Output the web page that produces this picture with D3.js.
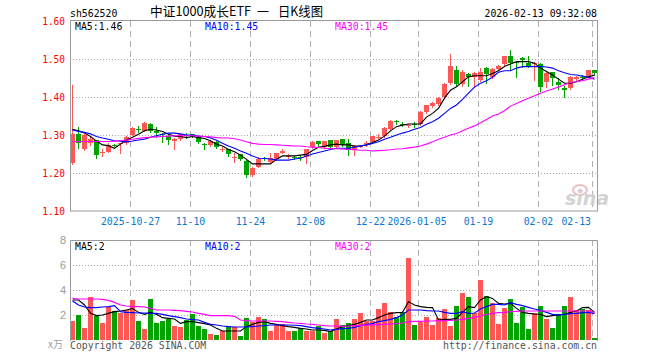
<!DOCTYPE html>
<html><head><meta charset="utf-8">
<script src="https://cdn.jsdelivr.net/npm/d3@7"></script>
<style>body{margin:0;background:#fff}svg{display:block}</style>
</head><body>
<svg id="c" width="660" height="360"></svg>
<script>
const dates = ["2025-10-13","2025-10-14","2025-10-15","2025-10-16","2025-10-17","2025-10-20","2025-10-21","2025-10-22","2025-10-23","2025-10-24",
"2025-10-27","2025-10-28","2025-10-29","2025-10-30","2025-10-31","2025-11-03","2025-11-04","2025-11-05","2025-11-06","2025-11-07",
"2025-11-10","2025-11-11","2025-11-12","2025-11-13","2025-11-14","2025-11-17","2025-11-18","2025-11-19","2025-11-20","2025-11-21",
"2025-11-24","2025-11-25","2025-11-26","2025-11-27","2025-11-28","2025-12-01","2025-12-02","2025-12-03","2025-12-04","2025-12-05",
"2025-12-08","2025-12-09","2025-12-10","2025-12-11","2025-12-12","2025-12-15","2025-12-16","2025-12-17","2025-12-18","2025-12-19",
"2025-12-22","2025-12-23","2025-12-24","2025-12-25","2025-12-26","2025-12-29","2025-12-30","2025-12-31","2026-01-05","2026-01-06",
"2026-01-07","2026-01-08","2026-01-09","2026-01-12","2026-01-13","2026-01-14","2026-01-15","2026-01-16","2026-01-19","2026-01-20",
"2026-01-21","2026-01-22","2026-01-23","2026-01-26","2026-01-27","2026-01-28","2026-01-29","2026-01-30","2026-02-02","2026-02-03",
"2026-02-04","2026-02-05","2026-02-06","2026-02-09","2026-02-10","2026-02-11","2026-02-12","2026-02-13"];

const openP = [1.227,1.302,1.263,1.278,1.287,1.254,1.256,1.274,1.276,1.278,
1.300,1.317,1.311,1.329,1.311,1.303,1.297,1.283,1.289,1.300,
1.302,1.296,1.277,1.274,1.282,1.262,1.262,1.240,1.250,1.232,
1.195,1.217,1.239,1.230,1.236,1.253,1.243,1.242,1.242,1.243,
1.268,1.284,1.268,1.287,1.269,1.289,1.278,1.261,1.270,1.277,
1.282,1.295,1.297,1.315,1.336,1.330,1.325,1.330,1.328,1.361,
1.376,1.382,1.399,1.436,1.471,1.433,1.461,1.452,1.445,1.476,
1.452,1.473,1.487,1.508,1.493,1.502,1.490,1.488,1.487,1.440,
1.465,1.440,1.423,1.423,1.447,1.452,1.453,1.471];
const closeP = [1.302,1.278,1.300,1.289,1.247,1.255,1.274,1.273,1.278,1.296,
1.319,1.314,1.332,1.311,1.306,1.302,1.287,1.290,1.302,1.299,
1.296,1.282,1.276,1.284,1.269,1.263,1.250,1.242,1.236,1.195,
1.214,1.237,1.238,1.239,1.252,1.258,1.244,1.241,1.241,1.262,
1.282,1.276,1.284,1.268,1.287,1.274,1.261,1.272,1.271,1.278,
1.297,1.296,1.319,1.338,1.335,1.329,1.326,1.329,1.361,1.378,
1.385,1.398,1.434,1.482,1.433,1.467,1.452,1.462,1.467,1.461,
1.473,1.482,1.508,1.489,1.492,1.497,1.480,1.490,1.427,1.464,
1.449,1.432,1.418,1.452,1.453,1.451,1.471,1.464];
const highP = [1.432,1.320,1.302,1.295,1.287,1.263,1.278,1.277,1.279,1.298,
1.320,1.323,1.333,1.331,1.320,1.305,1.300,1.292,1.303,1.304,
1.303,1.297,1.280,1.287,1.283,1.268,1.263,1.252,1.251,1.233,
1.216,1.242,1.243,1.252,1.253,1.262,1.251,1.246,1.246,1.263,
1.283,1.285,1.285,1.288,1.288,1.290,1.289,1.274,1.274,1.284,
1.298,1.302,1.320,1.340,1.340,1.333,1.330,1.333,1.362,1.380,
1.388,1.400,1.436,1.513,1.482,1.470,1.463,1.465,1.476,1.478,
1.476,1.485,1.509,1.525,1.496,1.506,1.508,1.492,1.489,1.466,
1.466,1.449,1.428,1.454,1.456,1.458,1.472,1.472];
const lowP = [1.224,1.265,1.261,1.275,1.240,1.245,1.254,1.270,1.253,1.276,
1.299,1.308,1.310,1.307,1.296,1.282,1.276,1.263,1.287,1.293,
1.294,1.280,1.262,1.272,1.266,1.257,1.245,1.230,1.233,1.190,
1.193,1.216,1.234,1.229,1.235,1.252,1.240,1.236,1.235,1.226,
1.266,1.272,1.266,1.266,1.267,1.270,1.247,1.247,1.268,1.272,
1.280,1.291,1.296,1.314,1.328,1.324,1.322,1.320,1.326,1.358,
1.374,1.380,1.397,1.434,1.431,1.430,1.429,1.426,1.443,1.438,
1.449,1.471,1.485,1.470,1.453,1.480,1.478,1.445,1.417,1.427,
1.432,1.420,1.401,1.421,1.445,1.448,1.452,1.458];

const ma5 = [1.315,1.311,1.305,1.296,1.284,1.274,1.272,1.265,1.276,1.287,
1.294,1.302,1.311,1.315,1.313,1.309,1.302,1.297,1.296,1.293,
1.296,1.293,1.291,1.285,1.276,1.271,1.262,1.256,1.247,1.236,
1.224,1.224,1.224,1.224,1.236,1.245,1.245,1.245,1.247,1.249,
1.259,1.268,1.270,1.274,1.276,1.274,1.274,1.271,1.271,1.274,
1.280,1.287,1.297,1.311,1.322,1.326,1.329,1.329,1.329,1.347,
1.357,1.370,1.397,1.418,1.427,1.440,1.453,1.456,1.456,1.456,
1.462,1.469,1.480,1.487,1.493,1.493,1.493,1.489,1.476,1.467,
1.458,1.447,1.436,1.436,1.440,1.447,1.453,1.458];
const ma10 = [1.313,1.309,1.307,1.303,1.296,1.292,1.289,1.285,1.284,1.282,
1.284,1.287,1.289,1.294,1.298,1.302,1.305,1.305,1.303,1.300,
1.300,1.297,1.296,1.292,1.286,1.278,1.271,1.265,1.258,1.252,
1.245,1.239,1.238,1.237,1.234,1.234,1.234,1.237,1.239,1.245,
1.250,1.254,1.258,1.262,1.265,1.265,1.265,1.268,1.271,1.274,
1.278,1.282,1.289,1.294,1.300,1.305,1.309,1.315,1.320,1.328,
1.335,1.344,1.357,1.370,1.379,1.394,1.410,1.426,1.436,1.443,
1.452,1.465,1.469,1.469,1.476,1.480,1.480,1.480,1.480,1.479,
1.476,1.469,1.464,1.459,1.458,1.455,1.452,1.447];
const ma30 = [1.283,1.283,1.283,1.283,1.283,1.283,1.283,1.284,1.285,1.287,
1.289,1.291,1.293,1.294,1.295,1.296,1.297,1.298,1.298,1.298,
1.298,1.297,1.296,1.295,1.293,1.292,1.292,1.290,1.287,1.282,
1.278,1.276,1.275,1.275,1.274,1.273,1.272,1.271,1.271,1.269,
1.268,1.267,1.265,1.264,1.264,1.263,1.262,1.261,1.260,1.260,
1.258,1.259,1.260,1.261,1.263,1.264,1.266,1.268,1.271,1.276,
1.282,1.289,1.294,1.300,1.304,1.311,1.318,1.324,1.332,1.341,
1.350,1.355,1.364,1.376,1.383,1.390,1.397,1.403,1.410,1.416,
1.421,1.426,1.432,1.438,1.440,1.443,1.447,1.451];

const volume = [1.52,2.0,0.96,3.44,1.95,1.36,2.67,2.32,2.13,2.4,
3.2,1.52,0.88,3.28,1.39,1.55,1.68,1.12,1.04,1.6,
2.08,1.15,0.88,0.48,0.4,0.72,1.12,1.01,0.32,1.76,
1.47,1.87,1.65,0.72,1.17,1.25,0.72,0.72,0.93,0.72,
0.72,1.12,0.6,0.72,1.68,1.2,1.33,1.68,2.16,1.55,
1.52,2.48,2.96,2.21,1.87,2.21,6.59,1.2,1.44,1.84,
1.2,1.76,2.48,1.12,2.72,3.76,3.44,2.13,4.8,3.52,
2.96,1.28,2.56,3.28,1.36,2.64,0.88,2.16,2.72,1.68,
0.96,2.08,2.72,3.44,2.37,2.48,2.4,0.16];
const vma5 = [3.2,3.2,2.8,2.13,1.95,2.0,2.13,2.27,2.32,2.4,
2.53,2.21,2.05,2.21,2.05,1.79,1.73,1.68,1.33,1.47,
1.47,1.39,1.31,1.2,0.93,0.72,0.72,0.72,0.72,1.07,
1.25,1.41,1.47,1.33,1.25,1.15,1.07,1.01,0.93,0.88,
0.8,0.8,0.77,0.67,0.88,1.07,1.15,1.25,1.41,1.6,
1.6,1.79,2.0,2.13,2.19,2.21,3.07,2.8,2.67,2.61,
2.59,1.6,1.65,1.65,1.73,2.21,2.67,2.59,3.2,3.47,
3.33,2.93,2.88,2.93,2.53,2.21,2.13,2.08,2.05,1.87,
1.95,2.0,2.05,2.21,2.32,2.59,2.61,2.21];
const vma10 = [3.12,2.8,2.64,2.59,2.59,2.64,2.67,2.75,2.27,2.21,
2.19,2.16,2.16,2.13,2.13,2.05,1.95,1.87,1.79,1.68,
1.63,1.6,1.41,1.25,1.2,1.12,1.07,1.04,1.04,1.04,
1.07,1.12,1.15,1.2,1.2,1.2,1.2,1.18,1.15,1.07,
0.99,0.93,0.88,0.8,0.85,0.91,0.93,1.01,1.15,1.25,
1.31,1.47,1.55,1.65,1.79,2.0,2.4,2.4,2.4,2.35,
2.32,2.32,2.21,2.13,2.13,2.27,2.13,2.16,2.48,2.67,
2.85,2.85,2.8,2.99,2.85,2.75,2.61,2.48,2.37,2.21,
2.05,2.0,2.05,2.11,2.13,2.19,2.21,2.11];
const vma30 = [3.33,3.28,3.28,3.28,3.28,3.25,3.17,3.01,2.8,2.72,
2.67,2.67,2.64,2.53,2.4,2.4,2.4,2.37,2.35,2.29,
2.24,2.13,2.05,1.95,1.95,1.95,1.95,1.89,1.6,1.55,
1.52,1.52,1.52,1.52,1.49,1.47,1.41,1.36,1.33,1.28,
1.25,1.2,1.15,1.12,1.12,1.09,1.12,1.15,1.17,1.2,
1.21,1.23,1.25,1.28,1.31,1.36,1.47,1.49,1.49,1.52,
1.52,1.55,1.55,1.57,1.6,1.65,1.73,1.81,1.92,2.05,
2.13,2.19,2.21,2.27,2.29,2.32,2.32,2.32,2.32,2.32,
2.32,2.32,2.32,2.32,2.32,2.32,2.32,2.21];

const tickDates = ["2025-10-27","2025-11-10","2025-11-24","2025-12-08","2025-12-22","2026-01-05","2026-01-19","2026-02-02","2026-02-13"];
const tickLabels = ["2025-10-27","11-10","11-24","12-08","12-22","2026-01-05","01-19","02-02","02-13"];
const priceTicks = [1.10,1.20,1.30,1.40,1.50,1.60];
const volTicks = [2,4,6,8];

const code = "sh562520";
const titleParts = ["中证1000成长ETF", "一", "日K线图"];
const stamp = "2026-02-13 09:32:08";
const priceLegend = ["MA5:1.46","MA10:1.45","MA30:1.45"];
const volLegend = ["MA5:2","MA10:2","MA30:2"];
const volUnit = "x万";
const copyright = "Copyright 2026 SINA.COM";
const site = "http://finance.sina.com.cn";

const RED = "#ff5656", GREEN = "#00a300";
const MA_COLORS = ["#000000","#0000ff","#ff00ff"];
const MONO = "'DejaVu Sans Mono', 'Liberation Mono', monospace";
const CJK = "'Noto Sans CJK SC', sans-serif";
const CW = 5.92;

const svg = d3.select("#c");
svg.append("rect").attr("width",660).attr("height",360).attr("fill","#fff");

const L = 70, R = 597.5;
const x = d3.scaleBand().domain(dates).range([69.5, 597.5]);
const cx = d => x(d) + 3;
const y = d3.scaleLinear().domain([1.10, 1.60]).range([211, 21]);
const yv = d3.scaleLinear().domain([0, 8]).range([340, 240]);

function mono(g, str, px, py, fill, anchor) {
  const t = g.append("text").attr("x", px).attr("y", py).attr("fill", fill)
    .attr("font-family", MONO).attr("font-size", 11)
    .attr("textLength", str.length * CW).attr("lengthAdjust", "spacingAndGlyphs")
    .text(str);
  if (anchor) t.attr("text-anchor", anchor);
  return t;
}

// ---------- header ----------
mono(svg, code, 70, 16.5, "#000");
const titleX = [150, 257, 278];
const titleW = [101, 12, 45];
titleParts.forEach((s, i) => {
  svg.append("text").attr("x", titleX[i]).attr("y", 16).attr("font-family", CJK)
    .attr("font-size", 13).attr("fill", "#000")
    .attr("textLength", titleW[i]).attr("lengthAdjust", "spacingAndGlyphs").text(s);
});
mono(svg, stamp, 597, 16.5, "#000", "end");

// ---------- price panel ----------
const gp = svg.append("g");
gp.selectAll("line.hg").data(priceTicks.filter(v => v > 1.10 && v < 1.60)).join("line")
  .attr("x1", L).attr("x2", R).attr("y1", d => Math.round(y(d)) + 0.5).attr("y2", d => Math.round(y(d)) + 0.5)
  .attr("stroke", "#a8a8a8").attr("stroke-dasharray", "1,2");
gp.selectAll("line.vg").data(tickDates).join("line")
  .attr("x1", d => x(d) + 1).attr("x2", d => x(d) + 1).attr("y1", 21).attr("y2", 211)
  .attr("stroke", "#b0b0b0").attr("stroke-dasharray", "6,4");

const wm = gp.append("g").attr("opacity", 0.9);
wm.append("ellipse").attr("cx", 580).attr("cy", 190).attr("rx", 7).attr("ry", 5).attr("fill", "none").attr("stroke", "#e6b8b8").attr("stroke-width", 2);
wm.append("circle").attr("cx", 580).attr("cy", 191).attr("r", 2.2).attr("fill", "#e6b8b8");
wm.append("text").attr("x", 565).attr("y", 205).attr("font-family", "'DejaVu Sans', sans-serif")
  .attr("font-size", 19).attr("font-weight", "bold").attr("font-style", "italic").attr("fill", "#cfcfcf").text("sina");

gp.selectAll("text.yl").data(priceTicks).join("text")
  .attr("x", 65).attr("y", d => y(d) + 4).attr("text-anchor", "end")
  .attr("fill", "#ff0000").attr("font-family", MONO).attr("font-size", 11)
  .attr("textLength", 4 * 5.7).attr("lengthAdjust", "spacingAndGlyphs")
  .text(d => d.toFixed(2));

gp.selectAll("text.xl").data(tickDates).join("text")
  .attr("x", (d, i) => {
    const w = tickLabels[i].length * CW;
    let c = x(d) + 1;
    if (c + w / 2 > 591) c = 591 - w / 2;
    if (i === 5) c -= 1.5;
    return c;
  })
  .attr("y", 225).attr("text-anchor", "middle").attr("fill", "#0a78d2")
  .attr("font-family", MONO).attr("font-size", 11)
  .attr("textLength", (d, i) => tickLabels[i].length * CW).attr("lengthAdjust", "spacingAndGlyphs")
  .text((d, i) => tickLabels[i]);

const idx = d3.range(dates.length);
const candles = gp.append("g");
candles.selectAll("line.wick").data(idx).join("line")
  .attr("x1", i => cx(dates[i])).attr("x2", i => cx(dates[i]))
  .attr("y1", i => Math.round(y(highP[i]))).attr("y2", i => Math.round(y(lowP[i])) + 1)
  .attr("stroke", i => closeP[i] >= openP[i] ? RED : GREEN).attr("stroke-width", 1);
candles.selectAll("rect.body").data(idx).join("rect")
  .attr("x", i => x(dates[i]) + 0.5).attr("width", 5)
  .attr("y", i => Math.round(y(Math.max(openP[i], closeP[i]))))
  .attr("height", i => Math.max(1, Math.round(y(Math.min(openP[i], closeP[i]))) - Math.round(y(Math.max(openP[i], closeP[i])))))
  .attr("fill", i => closeP[i] >= openP[i] ? RED : GREEN);

const lineP = d3.line().x((v, i) => cx(dates[i])).y(v => y(v));
[ma5, ma10, ma30].forEach((s, k) => {
  gp.append("path").attr("d", lineP(s)).attr("fill", "none").attr("stroke", MA_COLORS[k]).attr("stroke-width", 1.1);
});

gp.append("rect").attr("x", 70.5).attr("y", 20.5).attr("width", 527).attr("height", 190.5)
  .attr("fill", "none").attr("stroke", "#9a9a9a");

mono(gp, priceLegend[0], 75, 29.5, MA_COLORS[0]);
mono(gp, priceLegend[1], 205, 29.5, MA_COLORS[1]);
mono(gp, priceLegend[2], 335, 29.5, MA_COLORS[2]);

// ---------- volume panel ----------
const gv = svg.append("g");
gv.selectAll("line.hg").data(volTicks.filter(v => v < 8)).join("line")
  .attr("x1", L).attr("x2", R).attr("y1", d => Math.round(yv(d)) + 0.5).attr("y2", d => Math.round(yv(d)) + 0.5)
  .attr("stroke", "#a8a8a8").attr("stroke-dasharray", "1,2");
gv.selectAll("line.vg").data(tickDates).join("line")
  .attr("x1", d => x(d) + 1).attr("x2", d => x(d) + 1).attr("y1", 240).attr("y2", 340)
  .attr("stroke", "#b0b0b0").attr("stroke-dasharray", "6,4");

gv.selectAll("rect.vb").data(idx).join("rect")
  .attr("x", i => x(dates[i]) + 0.5).attr("width", 5)
  .attr("y", i => Math.round(yv(volume[i])))
  .attr("height", i => 340 - Math.round(yv(volume[i])))
  .attr("fill", i => closeP[i] >= openP[i] ? RED : GREEN);

const lineV = d3.line().x((v, i) => cx(dates[i])).y(v => yv(v));
[vma5, vma10, vma30].forEach((s, k) => {
  gv.append("path").attr("d", lineV(s)).attr("fill", "none").attr("stroke", MA_COLORS[k]).attr("stroke-width", 1.1);
});

gv.append("path").attr("d", `M70.5,341 V240.5 H597.5 V341`).attr("fill", "none").attr("stroke", "#9a9a9a");

gv.selectAll("text.vl").data(volTicks).join("text")
  .attr("x", 66).attr("y", d => yv(d) + 4).attr("text-anchor", "end")
  .attr("fill", "#9a9a9a").attr("font-family", "'Liberation Sans', Arial, sans-serif").attr("font-size", 11)
  .text(d => d);
gv.append("text").attr("x", 63).attr("y", 348).attr("text-anchor", "end")
  .attr("fill", "#a0a0a0").attr("font-family", CJK).attr("font-size", 10).text(volUnit);

mono(gv, volLegend[0], 75, 250, MA_COLORS[0]);
mono(gv, volLegend[1], 205, 250, MA_COLORS[1]);
mono(gv, volLegend[2], 335, 250, MA_COLORS[2]);

mono(svg, copyright, 70, 349, "#555");
mono(svg, site, 597, 349, "#555", "end");
</script>
</body></html>
